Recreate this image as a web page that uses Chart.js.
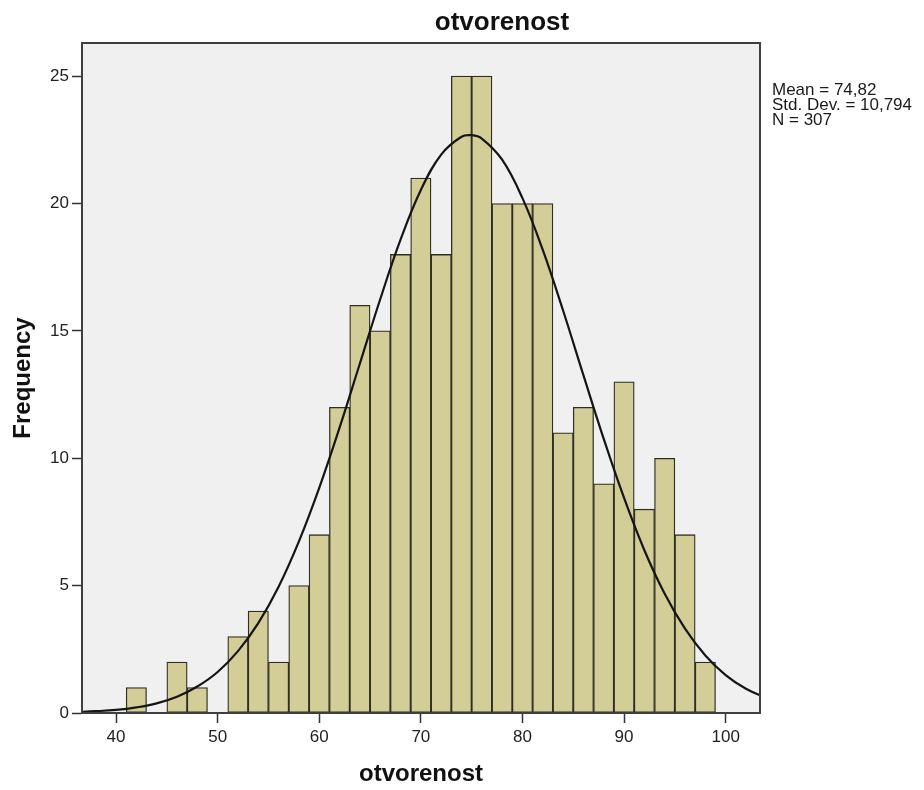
<!DOCTYPE html>
<html><head><meta charset="utf-8">
<script src="https://cdn.jsdelivr.net/npm/chart.js@4.4.1/dist/chart.umd.min.js"></script>
<style>html,body{margin:0;padding:0;background:#fff}#wrap{width:924px;height:790px}</style>
</head><body><div id="wrap"><canvas id="c" width="924" height="790"></canvas></div>
<script>
const chartTitle = 'otvorenost';
const xTitle = 'otvorenost';
const yTitle = 'Frequency';
const statsLines = ['Mean = 74,82', 'Std. Dev. = 10,794', 'N = 307'];
const binCenters = [42,44,46,48,50,52,54,56,58,60,62,64,66,68,70,72,74,76,78,80,82,84,86,88,90,92,94,96,98];
const frequencies = [1,0,2,1,0,3,4,2,5,7,12,16,15,18,21,18,25,25,20,20,20,11,12,9,13,8,10,7,2];
const curveX = [36,38,40,42,44,46,48,50,52,54,56,58,60,62,64,66,68,70,72,74,75,76,78,80,82,84,86,88,90,92,94,96,98,100,102,104];
const curveY = [0.04,0.07,0.12,0.22,0.38,0.64,1.04,1.61,2.43,3.53,4.96,6.74,8.84,11.20,13.72,16.24,18.58,20.53,21.92,22.62,22.68,22.55,21.72,20.21,18.18,15.80,13.26,10.76,8.44,6.39,4.68,3.31,2.26,1.49,0.95,0.59];
const xTicks = [40,50,60,70,80,90,100];
const yTicks = [0,5,10,15,20,25];

const FONT = "'Liberation Sans', Arial, sans-serif";

const decor = {
  id: 'decor',
  beforeDraw(chart) {
    const {ctx, chartArea: a} = chart;
    ctx.save();
    ctx.fillStyle = '#ffffff';
    ctx.fillRect(0, 0, chart.width, chart.height);
    ctx.fillStyle = '#f0f0f0';
    ctx.fillRect(a.left, a.top, a.right - a.left, a.bottom - a.top);
    ctx.restore();
  },
  afterDraw(chart) {
    const {ctx, chartArea: a} = chart;
    ctx.save();
    ctx.strokeStyle = '#3e3e3e';
    ctx.lineWidth = 2;
    ctx.strokeRect(a.left, a.top, a.right - a.left, a.bottom - a.top);
    ctx.fillStyle = '#111';
    ctx.textAlign = 'center';
    ctx.textBaseline = 'alphabetic';
    ctx.font = 'bold 26px ' + FONT;
    ctx.fillText(chartTitle, 502, 30);
    ctx.textAlign = 'left';
    ctx.font = '17px ' + FONT;
    ctx.fillStyle = '#1a1a1a';
    statsLines.forEach((t, i) => ctx.fillText(t, a.right + 12, 95 + i * 15));
    ctx.restore();
  }
};

new Chart(document.getElementById('c'), {
  type: 'bar',
  data: {
    datasets: [
      {
        type: 'line',
        data: curveX.map((x, i) => ({x: x, y: curveY[i]})),
        borderColor: '#151515',
        borderWidth: 2.2,
        pointRadius: 0,
        fill: false,
        tension: 0.4,
        order: 1
      },
      {
        type: 'bar',
        data: binCenters.map((x, i) => ({x: x, y: frequencies[i]})),
        backgroundColor: '#d3ce98',
        borderColor: '#2e2e22',
        borderWidth: 1.3,
        borderSkipped: false,
        barPercentage: 1,
        categoryPercentage: 1,
        grouped: false,
        order: 2
      }
    ]
  },
  options: {
    responsive: false,
    animation: false,
    devicePixelRatio: 1,
    layout: {padding: {top: 43, right: 164, left: 0, bottom: 0}},
    plugins: {legend: {display: false}, tooltip: {enabled: false}, title: {display: false}},
    scales: {
      x: {
        type: 'linear',
        offset: false,
        min: 36.65,
        max: 103.38,
        afterFit(s) { s.height = 77; },
        afterBuildTicks(s) { s.ticks = xTicks.map(v => ({value: v})); },
        grid: {display: true, offset: false, drawOnChartArea: false, drawTicks: true, tickLength: 10, tickColor: '#333', tickWidth: 1.5},
        border: {display: true, color: '#333', width: 2},
        ticks: {padding: 4, color: '#222', font: {family: FONT, size: 17}, maxRotation: 0, autoSkip: false},
        title: {display: true, text: xTitle, color: '#111', font: {family: FONT, size: 24, weight: 'bold'}, padding: {top: 0, bottom: 1}}
      },
      y: {
        type: 'linear',
        min: 0,
        max: 26.3,
        afterFit(s) { s.width = 82; },
        afterBuildTicks(s) { s.ticks = yTicks.map(v => ({value: v})); },
        grid: {display: true, drawOnChartArea: false, drawTicks: true, tickLength: 10, tickColor: '#333', tickWidth: 1.5},
        border: {display: true, color: '#333', width: 2},
        ticks: {padding: 3, color: '#222', font: {family: FONT, size: 17}},
        title: {display: true, text: yTitle, color: '#111', font: {family: FONT, size: 24, weight: 'bold'}, padding: {top: 8.5, bottom: 0}}
      }
    }
  },
  plugins: [decor]
});
</script>
</body></html>
